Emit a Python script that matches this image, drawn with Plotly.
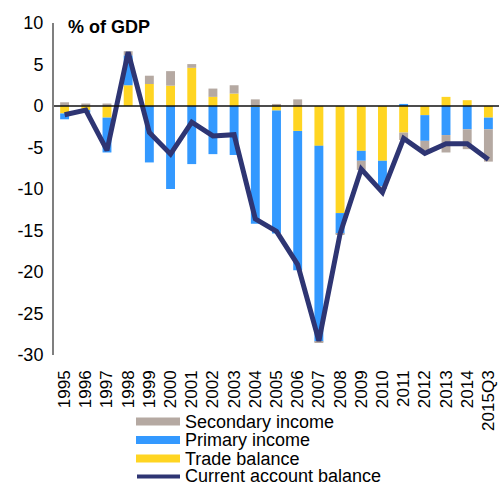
import plotly.graph_objects as go

# Balance of payments components, % of GDP
years = ["1995", "1996", "1997", "1998", "1999", "2000", "2001", "2002", "2003",
         "2004", "2005", "2006", "2007", "2008", "2009", "2010", "2011", "2012",
         "2013", "2014", "2015Q3"]

trade_balance = [-0.9, -0.5, -1.4, 2.5, 2.65, 2.45, 4.6, 1.1, 1.5, -0.1, -0.55,
                 -3.0, -4.8, -12.9, -5.4, -6.6, -3.2, -1.1, 1.1, 0.7, -1.4]
primary_income = [-0.7, -0.3, -4.2, 3.6, -6.8, -10.0, -7.0, -5.8, -5.9, -14.1,
                  -14.8, -16.8, -23.6, -2.5, -1.2, -3.1, 0.25, -3.1, -3.5, -2.8, -1.4]
secondary_income = [0.45, 0.3, 0.3, 0.5, 1.0, 1.75, 0.45, 1.0, 1.0, 0.8, 0.25,
                    0.8, -0.1, -0.1, -1.1, -0.3, -0.9, -1.1, -2.1, -2.4, -3.9]
current_account = [-1.05, -0.5, -5.35, 6.5, -3.2, -5.8, -1.95, -3.6, -3.45, -13.6,
                   -15.1, -19.1, -28.3, -15.4, -7.6, -10.4, -3.9, -5.7, -4.55,
                   -4.55, -6.45]

y_ticks = [10, 5, 0, -5, -10, -15, -20, -25, -30]

legend_labels = ["Secondary income", "Primary income", "Trade balance",
                 "Current account balance"]

C_SEC = "#B5A9A2"
C_PRIM = "#3399FF"
C_TRADE = "#FFD522"
C_CA = "#2E3573"
FONT = "Liberation Sans, Arial, sans-serif"

W, H = 499, 486
M_L, M_R, M_T, M_B = 54, 0, 23, 131
PW, PH = W - M_L - M_R, H - M_T - M_B


def px_x(x):
    return (x - M_L) / PW


def px_y(y):
    return (H - M_B - y) / PH


fig = go.Figure()
fig.add_trace(go.Bar(x=years, y=trade_balance, marker_color=C_TRADE,
                     marker_line_width=0, showlegend=False))
fig.add_trace(go.Bar(x=years, y=primary_income, marker_color=C_PRIM,
                     marker_line_width=0, showlegend=False))
fig.add_trace(go.Bar(x=years, y=secondary_income, marker_color=C_SEC,
                     marker_line_width=0, showlegend=False))
fig.add_trace(go.Scatter(x=years, y=current_account, mode="lines",
                         line=dict(color=C_CA, width=5), showlegend=False))

shapes = [
    # zero line drawn over the bars
    dict(type="line", xref="paper", yref="y", x0=0, x1=1, y0=0, y1=0,
         line=dict(color="#111111", width=1.5), layer="above"),
]
annotations = [
    dict(text="<b>% of GDP</b>", xref="paper", yref="paper",
         x=px_x(66), y=px_y(27), xanchor="left", yanchor="middle",
         showarrow=False, font=dict(family=FONT, size=18, color="#000000")),
]

# Custom legend with wide swatches
rows = [421.5, 440, 458.5, 476.5]
colors = [C_SEC, C_PRIM, C_TRADE]
for i, label in enumerate(legend_labels):
    yc = rows[i]
    if i < 3:
        shapes.append(dict(type="rect", xref="paper", yref="paper",
                           x0=px_x(136), x1=px_x(180),
                           y0=px_y(yc + 4), y1=px_y(yc - 4),
                           fillcolor=colors[i], line_width=0, layer="above"))
    else:
        shapes.append(dict(type="line", xref="paper", yref="paper",
                           x0=px_x(137), x1=px_x(180), y0=px_y(yc), y1=px_y(yc),
                           line=dict(color=C_CA, width=4), layer="above"))
    annotations.append(dict(text=label, xref="paper", yref="paper",
                            x=px_x(184), y=px_y(yc), xanchor="left",
                            yanchor="middle", showarrow=False, borderpad=0,
                            font=dict(family=FONT, size=18, color="#000000")))

fig.update_layout(
    width=W, height=H,
    margin=dict(l=M_L, r=M_R, t=M_T, b=M_B, pad=0),
    paper_bgcolor="white", plot_bgcolor="white",
    barmode="relative", bargap=0.58,
    showlegend=False,
    font=dict(family=FONT, size=18, color="#000000"),
    shapes=shapes, annotations=annotations,
)
fig.update_xaxes(
    type="category", range=[-0.5, 20.5],
    tickmode="array", tickvals=years, ticktext=years,
    tickangle=-90, tickfont=dict(family=FONT, size=17, color="#000000"),
    showline=False, showgrid=False, zeroline=False, ticks="",
    ticklabelstandoff=11,
)
fig.update_yaxes(
    range=[-30, 10], tickmode="array", tickvals=y_ticks,
    ticktext=[str(v) for v in y_ticks],
    tickfont=dict(family=FONT, size=18, color="#000000"),
    showline=True, linecolor="#7F7F7F", linewidth=2,
    showgrid=False, zeroline=False, ticks="",
    ticklabelstandoff=5,
)

fig.write_html("out.html")
